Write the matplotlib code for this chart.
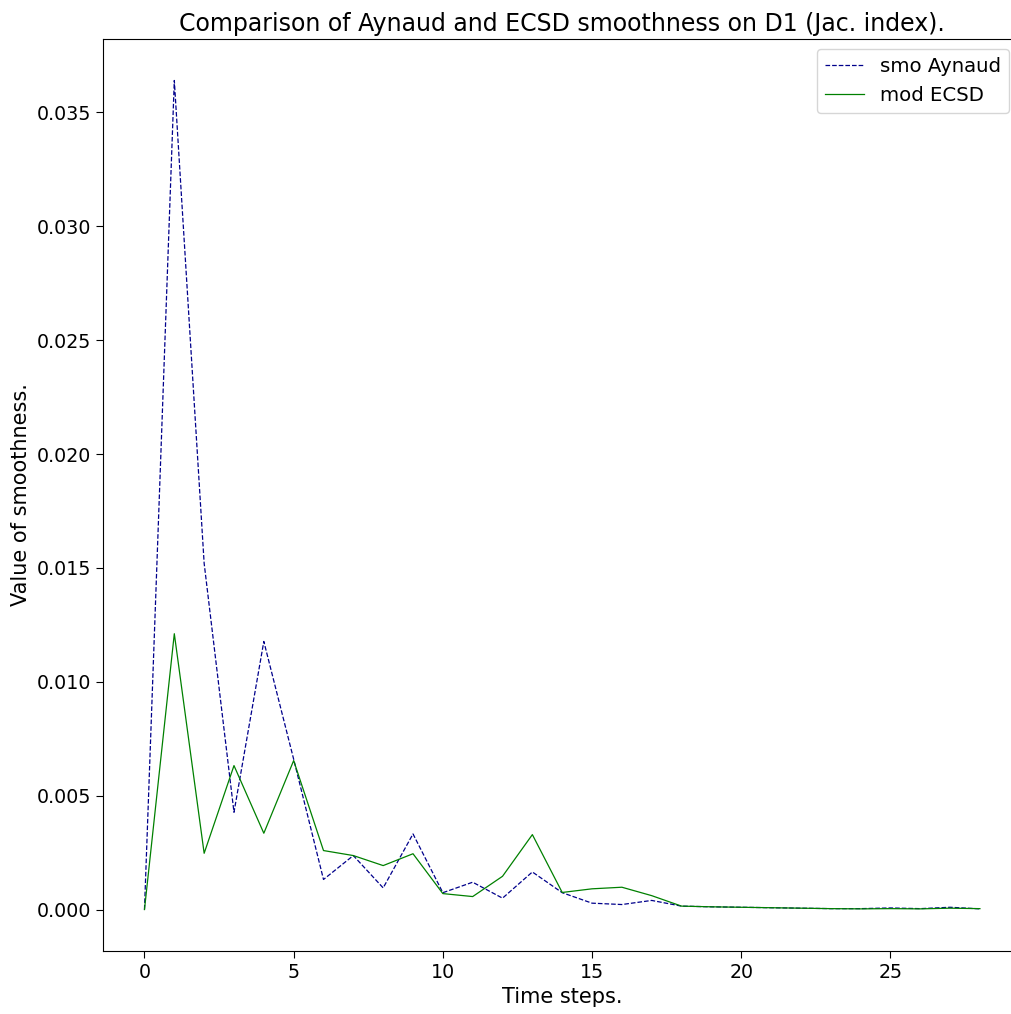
import matplotlib
matplotlib.use("Agg")
import matplotlib.pyplot as plt

# Smoothness per time step (Jaccard index, dataset D1)
kroki = list(range(29))
smo_aynaud = [0.0, 0.0364, 0.0152, 0.00427, 0.01177, 0.0066, 0.00132, 0.00237, 0.00095,
              0.00332, 0.00074, 0.0012, 0.0005, 0.00165, 0.00074, 0.00028, 0.00022,
              0.0004, 0.00015, 0.00012, 0.0001, 0.00008, 0.00006, 0.00004, 0.00004,
              0.00007, 0.00004, 0.0001, 0.00003]
mod_ecsd = [0.0, 0.01211, 0.00247, 0.00632, 0.00335, 0.00654, 0.00259, 0.00237, 0.00193,
            0.00245, 0.0007, 0.00057, 0.00146, 0.00329, 0.00075, 0.00091, 0.00098,
            0.00061, 0.00015, 0.00012, 0.0001, 0.00008, 0.00006, 0.00004, 0.00003,
            0.00004, 0.00003, 0.00006, 0.00004]

W, H = 1012, 1014
fig = plt.figure(figsize=(W / 100, H / 100), dpi=100)
# osie wychodzą poza prawą krawędź obrazka (przycięty zapis)
ax = fig.add_axes([102.7 / W, 1 - 951 / H, 919 / W, 912 / H])

ax.plot(kroki, smo_aynaud, '--', color='darkblue', linewidth=0.9, label='smo Aynaud')
ax.plot(kroki, mod_ecsd, '-', color='green', linewidth=0.9, label='mod ECSD')

ax.set_title('Comparison of Aynaud and ECSD smoothness on D1 (Jac. index).', fontsize=17)
ax.set_xlabel('Time steps.', fontsize=15)
ax.set_ylabel('Value of smoothness.', fontsize=15)
ax.tick_params(labelsize=13.7, length=5)
ax.spines['right'].set_visible(False)
ax.legend(loc='upper right', fontsize=14.2, bbox_to_anchor=(1009 / W, 1 - 49 / H),
          bbox_transform=fig.transFigure, borderaxespad=0)

fig.savefig('out.png', dpi=100)
